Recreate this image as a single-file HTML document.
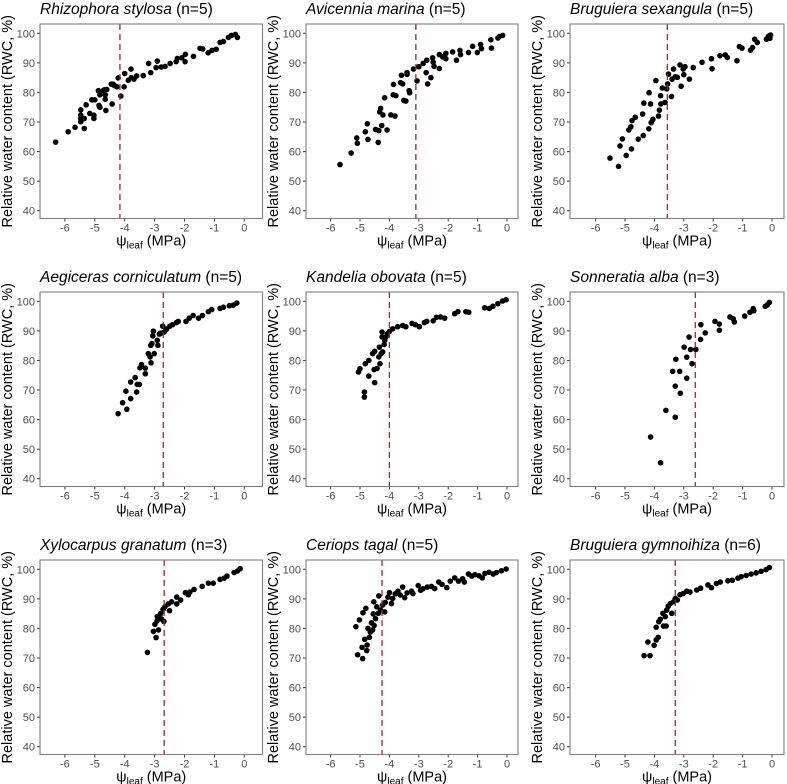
<!DOCTYPE html>
<html><head><meta charset="utf-8"><style>
html,body{margin:0;padding:0;background:#fff;}
svg{display:block;font-family:"Liberation Sans",sans-serif;}
</style></head><body>
<svg id="fig" width="787" height="784" viewBox="0 0 787 784" xmlns="http://www.w3.org/2000/svg"></svg>
<script>
const titles = ["Rhizophora stylosa","Avicennia marina","Bruguiera sexangula","Aegiceras corniculatum","Kandelia obovata","Sonneratia alba","Xylocarpus granatum","Ceriops tagal","Bruguiera gymnoihiza"];
const sampleSizes = ["(n=5)","(n=5)","(n=5)","(n=5)","(n=5)","(n=3)","(n=3)","(n=5)","(n=6)"];
const tlpValues = [-4.16,-3.10,-3.56,-2.71,-4.0,-2.61,-2.68,-4.25,-3.29];
const xTicks = [-6,-5,-4,-3,-2,-1,0];
const yTicks = [40,50,60,70,80,90,100];

const psi1 = [-6.31,-5.89,-5.66,-5.47,-5.47,-5.47,-5.47,-5.29,-5.35,-5.35,-5.17,-5.10,-5.0,-5.03,-5.03,-4.88,-4.86,-4.83,-4.83,-4.72,-4.65,-4.65,-4.63,-4.68,-4.60,-4.45,-4.39,-4.42,-4.34,-4.26,-4.22,-4.13,-4.02,-4.0,-3.88,-3.79,-3.78,-3.69,-3.60,-3.38,-3.20,-3.13,-2.95,-2.91,-2.78,-2.65,-2.48,-2.28,-2.24,-2.09,-1.97,-1.98,-1.70,-1.48,-1.39,-1.21,-1.08,-0.94,-0.81,-0.70,-0.53,-0.43,-0.30,-0.23];
const rwc1 = [63.2,66.7,68.2,72.3,71.2,70.1,74.1,75.8,71.2,67.8,72.9,77.5,77.5,72.3,71.2,80.6,75.6,75.0,79.2,80.6,79.2,77.7,73.9,80.9,81.0,82.8,82.8,76.1,82.3,81.9,84.9,78.8,81.9,86.4,84.1,87.9,85.0,84.5,85.6,85.7,89.8,86.7,88.4,90.6,88.6,88.8,89.8,90.4,91.5,91.7,92.9,90.4,92.2,94.9,94.7,93.4,94.2,94.6,96.9,97.2,98.6,99.3,99.6,98.6];
const psi2 = [-5.68,-5.30,-5.11,-5.09,-4.73,-4.82,-4.75,-4.47,-4.38,-4.36,-4.26,-4.08,-4.33,-4.30,-4.22,-3.95,-3.81,-4.16,-3.87,-3.78,-3.51,-3.44,-3.86,-3.62,-3.55,-3.59,-3.40,-3.40,-3.33,-3.31,-3.18,-3.00,-3.06,-2.85,-2.73,-2.75,-2.59,-2.70,-2.53,-2.51,-2.48,-2.30,-2.30,-2.19,-2.08,-2.08,-1.85,-1.72,-1.60,-1.58,-1.31,-1.17,-1.01,-0.90,-0.87,-0.55,-0.53,-0.31,-0.26,-0.15];
const rwc2 = [55.6,59.5,64.6,62.8,64.1,66.7,69.4,67.5,63.1,67.1,68.8,67.3,73.4,74.6,72.4,72.4,72.0,78.2,79.2,78.9,77.3,77.1,82.7,83.3,82.9,85.8,86.1,86.7,80.6,79.9,87.9,88.7,83.9,89.8,90.9,86.7,85.0,82.9,91.7,90.2,88.8,88.1,92.8,92.0,91.4,93.2,93.7,90.9,94.2,92.8,93.5,95.6,93.5,96.2,94.8,97.8,95.0,98.4,98.9,99.3];
const psi3 = [-5.51,-5.22,-5.17,-5.09,-4.96,-4.78,-4.87,-4.80,-4.76,-4.65,-4.55,-4.38,-4.40,-4.36,-4.19,-4.11,-4.05,-4.13,-4.18,-3.95,-3.86,-3.83,-3.78,-3.79,-3.73,-3.64,-3.58,-3.55,-3.52,-3.42,-3.40,-3.35,-3.29,-3.22,-3.09,-3.13,-3.02,-3.00,-2.96,-2.81,-2.68,-2.38,-2.06,-2.04,-1.77,-1.59,-1.52,-1.19,-1.11,-1.02,-0.73,-0.66,-0.59,-0.50,-0.19,-0.12,-0.05,-0.07];
const rwc3 = [57.8,55.0,61.9,64.3,58.7,60.9,67.3,68.4,70.5,71.6,64.2,65.4,72.7,76.4,67.7,69.8,70.9,76.1,79.9,84.0,72.0,74.0,76.1,78.9,81.5,76.6,81.2,82.9,86.2,78.6,84.5,87.9,85.3,85.1,82.1,89.3,87.9,86.0,88.7,84.5,88.4,90.2,91.4,88.0,92.4,92.7,91.8,90.7,95.5,95.0,94.3,95.2,98.0,96.9,98.0,99.0,99.4,98.3];
const psi4 = [-4.22,-4.07,-3.93,-3.96,-3.80,-3.80,-3.65,-3.60,-3.58,-3.51,-3.49,-3.44,-3.31,-3.31,-3.21,-3.15,-3.12,-3.13,-3.09,-3.06,-3.04,-3.01,-2.91,-2.89,-2.84,-2.80,-2.73,-2.68,-2.60,-2.49,-2.40,-2.27,-2.21,-1.95,-1.84,-1.71,-1.53,-1.40,-1.20,-1.09,-0.81,-0.70,-0.50,-0.37,-0.25];
const rwc4 = [62.0,65.7,63.5,69.6,67.1,72.7,74.2,69.3,71.9,71.9,77.5,78.6,75.5,77.4,82.3,81.2,79.2,85.1,85.7,88.3,89.9,82.3,86.8,85.1,88.9,89.2,91.6,89.6,90.6,91.6,92.1,92.8,93.2,93.2,94.3,95.2,94.3,95.2,96.5,97.2,97.6,98.0,98.5,98.7,99.4];
const psi5 = [-5.05,-5.00,-4.85,-4.85,-4.82,-4.70,-4.70,-4.57,-4.50,-4.50,-4.52,-4.42,-4.36,-4.34,-4.32,-4.28,-4.23,-4.25,-4.25,-4.18,-4.16,-4.12,-4.07,-4.0,-3.89,-3.72,-3.55,-3.44,-3.23,-3.12,-2.98,-2.81,-2.73,-2.51,-2.40,-2.26,-2.12,-1.78,-1.67,-1.40,-1.30,-0.76,-0.60,-0.48,-0.31,-0.15,-0.03];
const rwc5 = [76.1,77.2,69.3,67.6,78.9,80.0,74.7,82.3,83.1,72.5,76.9,77.3,81.2,84.5,78.9,82.3,82.9,87.9,89.6,85.4,86.8,87.9,89.0,89.8,90.7,91.4,91.8,91.4,92.5,92.1,91.4,92.8,93.2,93.4,94.6,94.7,94.3,95.8,96.5,96.5,96.3,97.8,97.6,98.3,99.2,100.1,100.5];
const psi6 = [-4.13,-3.79,-3.61,-3.29,-3.29,-3.12,-3.38,-3.14,-2.90,-3.27,-2.90,-2.72,-2.99,-2.77,-2.59,-2.82,-2.43,-2.42,-2.27,-1.94,-1.79,-1.79,-1.43,-1.32,-1.28,-0.93,-0.75,-0.64,-0.62,-0.23,-0.16,-0.09];
const rwc6 = [54.1,45.4,63.1,60.8,71.3,68.9,76.3,76.3,74.0,80.4,81.1,78.9,84.5,83.7,83.7,87.9,87.1,92.1,89.3,93.2,90.2,92.3,94.7,94.1,93.0,95.0,96.3,97.5,96.8,98.3,98.8,99.6];
const psi7 = [-3.24,-3.04,-2.95,-2.99,-2.92,-2.87,-2.91,-2.80,-2.77,-2.72,-2.69,-2.65,-2.54,-2.50,-2.43,-2.26,-2.26,-2.13,-1.97,-1.87,-1.82,-1.68,-1.41,-1.20,-1.04,-0.81,-0.67,-0.58,-0.34,-0.23,-0.14];
const rwc7 = [71.9,79.0,76.9,81.4,82.5,79.5,84.0,85.0,83.2,86.4,82.4,87.4,88.3,86.0,89.0,90.6,88.3,89.6,92.1,91.4,92.3,93.2,94.2,95.3,95.3,96.6,97.0,97.7,98.9,99.4,100.2];
const psi8 = [-5.14,-5.08,-5.02,-4.93,-4.91,-4.90,-4.84,-4.80,-4.77,-4.76,-4.73,-4.68,-4.65,-4.61,-4.57,-4.55,-4.53,-4.52,-4.47,-4.43,-4.38,-4.36,-4.30,-4.23,-4.16,-4.14,-4.05,-4.0,-3.93,-3.89,-3.80,-3.71,-3.63,-3.55,-3.48,-3.40,-3.25,-3.20,-3.02,-2.94,-2.86,-2.71,-2.57,-2.46,-2.32,-2.21,-2.05,-1.93,-1.78,-1.65,-1.51,-1.45,-1.31,-1.20,-1.09,-0.95,-0.84,-0.75,-0.61,-0.47,-0.36,-0.19,-0.03];
const rwc8 = [80.6,71.1,82.9,73.6,69.8,85.3,76.3,86.8,72.5,74.4,80.0,77.0,78.8,81.9,79.5,84.9,89.0,81.0,83.3,87.3,85.1,91.0,86.2,87.9,85.6,88.8,90.6,92.1,88.4,90.1,91.7,92.6,91.3,94.0,90.4,92.0,92.6,91.8,94.5,92.9,93.4,94.0,94.2,93.5,95.7,94.9,93.8,96.0,97.1,96.0,96.8,95.7,98.4,97.7,98.2,97.8,97.1,98.6,99.0,98.4,98.9,99.5,100.1];
const psi9 = [-4.35,-4.15,-4.22,-4.01,-3.94,-3.87,-3.94,-3.85,-3.80,-3.69,-3.60,-3.71,-3.63,-3.58,-3.53,-3.46,-3.41,-3.35,-3.29,-3.22,-3.13,-3.02,-2.90,-2.79,-2.56,-2.43,-2.18,-2.06,-1.89,-1.76,-1.50,-1.35,-1.16,-1.05,-0.88,-0.71,-0.54,-0.37,-0.20,-0.09];
const rwc9 = [70.8,70.8,75.4,74.3,76.1,77.0,80.4,82.3,83.1,80.8,80.8,85.1,84.0,86.2,87.5,88.4,85.1,89.0,90.1,89.6,91.4,91.8,92.6,92.3,93.0,93.6,94.7,93.8,95.2,95.7,96.1,96.3,97.0,97.5,97.9,98.4,98.8,99.3,99.9,100.6];

const psiSeries = [psi1,psi2,psi3,psi4,psi5,psi6,psi7,psi8,psi9];
const rwcSeries = [rwc1,rwc2,rwc3,rwc4,rwc5,rwc6,rwc7,rwc8,rwc9];

const NS = "http://www.w3.org/2000/svg";
const svg = document.getElementById("fig");
const cols = [{l:40,r:262.5,zero:244.3,unit:29.9},{l:306,r:518,zero:507,unit:29.4},{l:570,r:784,zero:772,unit:29.4}];
function mk(tag, attrs, parent){const e=document.createElementNS(NS,tag);for(const k in attrs)e.setAttribute(k,attrs[k]);(parent||svg).appendChild(e);return e;}

for(let i=0;i<9;i++){
  const c=cols[i%3], row=Math.floor(i/3), off=268*row;
  const top=24+off, bot=218.5+off;
  const xs=v=>c.zero+v*c.unit;
  const ys=v=>33.3+off+(100-v)*2.957;
  const g=mk("g",{});
  
  
  const t=mk("text",{x:c.l,y:14+off,"font-size":"15.5","fill":"#000"},g);
  
  
  const ti=mk("tspan",{"font-style":"italic"},t); ti.textContent=titles[i]+" ";
  const tn=mk("tspan",{},t); tn.textContent=sampleSizes[i];
  yTicks.forEach(v=>{
    const y=ys(v);
    mk("line",{x1:c.l-3,x2:c.l,y1:y,y2:y,stroke:"#333","stroke-width":"1"},g);
    const lb=mk("text",{x:c.l-5,y:y+4,"font-size":"11","fill":"#4d4d4d","text-anchor":"end"},g);
    
    
    lb.textContent=v;
  });
  xTicks.forEach(v=>{
    const x=xs(v);
    mk("line",{x1:x,x2:x,y1:bot,y2:bot+3,stroke:"#333","stroke-width":"1"},g);
    const lb=mk("text",{x:x,y:bot+13,"font-size":"11","fill":"#4d4d4d","text-anchor":"middle"},g);
    
    
    lb.textContent=v;
  });
  const ps=psiSeries[i], rs=rwcSeries[i];
  for(let k=0;k<ps.length;k++){
    const p=mk("circle",{cx:xs(ps[k]),cy:ys(rs[k]),r:"2.8",fill:"#000"},g);
    
    
  }
  const vl=mk("line",{x1:xs(tlpValues[i]),x2:xs(tlpValues[i]),y1:top,y2:bot,stroke:"#a8202e","stroke-width":"1.3","stroke-dasharray":"6,4"},g);
  
  
  const box=mk("rect",{x:c.l,y:top,width:c.r-c.l,height:bot-top,fill:"none",stroke:"#7f7f7f","stroke-width":"1.1"},g);
  
  
  const cx=(c.l+c.r)/2;
  const xl=mk("text",{x:cx,y:bot+27,"font-size":"14.5","fill":"#000","text-anchor":"middle"},g);
  
  
  const a=mk("tspan",{},xl); a.textContent="ψ";
  const b=mk("tspan",{"font-size":"10","dy":"3"},xl); b.textContent="leaf";
  const d=mk("tspan",{"dy":"-3"},xl); d.textContent="  (MPa)";
  const cy=(top+bot)/2, yx=c.l-28;
  const yl=mk("text",{x:yx,y:cy,"font-size":"14.5","fill":"#000","text-anchor":"middle",transform:"rotate(-90 "+yx+" "+cy+")"},g);
  
  
  yl.textContent="Relative water content  (RWC, %)";
}
</script>
</body></html>
